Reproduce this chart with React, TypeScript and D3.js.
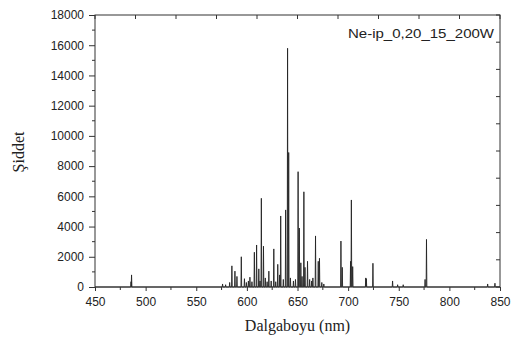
import React, { useEffect, useRef } from "react";
import * as d3 from "d3";

// Emission lines: wavelength (nm) and intensity (a.u.)
const lineWavelengths = [
  485.6, 486.1, 576.0, 579.0, 583.0, 585.2, 588.2, 590.2, 594.5, 597.6, 599.5, 601.5, 603.0, 605.0,
  607.4, 609.6, 611.8, 613.0, 614.3, 616.4, 618.2, 620.0, 621.7, 624.0, 626.6, 628.5, 630.5, 632.4,
  633.4, 636.0, 638.3, 640.2, 641.3, 643.0, 646.0, 648.0, 650.6, 651.8, 653.3, 654.5, 656.3, 657.4,
  659.9, 662.0, 664.0, 665.2, 667.8, 670.5, 671.7, 674.0, 676.0, 692.9, 694.2, 702.4, 703.2, 704.5,
  717.4, 718.0, 724.5, 743.9, 748.9, 754.4, 776.0, 777.4, 837.8, 845.0,
];
const lineIntensities = [
  350, 800, 200, 150, 300, 1400, 1050, 700, 2000, 550, 300, 400, 650, 350,
  2300, 2780, 1200, 400, 5870, 2700, 600, 350, 1050, 400, 2520, 350, 1500, 800,
  4700, 500, 5100, 15800, 8900, 600, 400, 500, 7630, 3900, 1600, 700, 6300, 1300,
  1700, 500, 400, 600, 3380, 1700, 1900, 300, 200, 3040, 1300, 1700, 5760, 1350,
  600, 550, 1570, 400, 150, 150, 500, 3150, 200, 250,
];

const xMajorTicks = [450, 500, 550, 600, 650, 700, 750, 800, 850];
const yMajorTicks = [0, 2000, 4000, 6000, 8000, 10000, 12000, 14000, 16000, 18000];
const legendLabel = "Ne-ip_0,20_15_200W";
const xTitle = "Dalgaboyu (nm)";
const yTitle = "Şiddet";

const W = 515;
const H = 338;
const L = 95, R = 500, T = 15, B = 287;

export default function App() {
  const ref = useRef<SVGSVGElement>(null);
  useEffect(() => {
    const svg = d3.select(ref.current);
    svg.selectAll("*").remove();
    const x = d3.scaleLinear().domain([450, 850]).range([L, R]);
    const y = d3.scaleLinear().domain([0, 18000]).range([B, T]);
    const axisColor = "#333";

    // spectrum path
    const pts: [number, number][] = [[450, 0]];
    const peaks = lineWavelengths.map((w, i) => ({ w, v: lineIntensities[i] })).sort((a, b) => a.w - b.w);
    peaks.forEach((p) => {
      pts.push([p.w - 0.35, 0]);
      pts.push([p.w, p.v]);
      pts.push([p.w + 0.35, 0]);
    });
    pts.push([850, 0]);
    const line = d3.line<[number, number]>().x((d) => x(d[0])).y((d) => y(d[1]));
    svg.append("path").attr("d", line(pts)!).attr("fill", "none").attr("stroke", "#222").attr("stroke-width", 0.9);

    // frame
    svg.append("rect").attr("x", L).attr("y", T).attr("width", R - L).attr("height", B - T)
      .attr("fill", "none").attr("stroke", axisColor).attr("stroke-width", 1);

    const font = "'Liberation Sans', Arial, sans-serif";
    const gl = svg.append("g").attr("transform", `translate(${L},0)`)
      .call(d3.axisLeft(y).tickValues(yMajorTicks).tickSize(6).tickPadding(5).tickFormat(d3.format("d")));
    const gb = svg.append("g").attr("transform", `translate(0,${B})`)
      .call(d3.axisBottom(x).tickValues(xMajorTicks).tickSize(4).tickPadding(6.5).tickFormat(d3.format("d")));
    [gl, gb].forEach((g) => {
      g.select(".domain").remove();
      g.selectAll("line").attr("stroke", axisColor);
      g.selectAll("text").attr("font-family", font).attr("font-size", 12).attr("fill", "#222");
    });
    const yMinor = d3.range(1000, 18000, 2000);
    svg.append("g").selectAll("line").data(yMinor).join("line")
      .attr("x1", L - 3).attr("x2", L).attr("y1", (d) => y(d)).attr("y2", (d) => y(d)).attr("stroke", axisColor);
    const xMinor = d3.range(475, 850, 50);
    svg.append("g").selectAll("line").data(xMinor).join("line")
      .attr("x1", (d) => x(d)).attr("x2", (d) => x(d)).attr("y1", B).attr("y2", B + 3).attr("stroke", axisColor);
    const xTop = d3.range(0, 11).map((i) => 450 + i * 40);
    svg.append("g").selectAll("line").data(xTop).join("line")
      .attr("x1", (d) => x(d)).attr("x2", (d) => x(d)).attr("y1", T).attr("y2", T + 4).attr("stroke", axisColor);
    const yRight = d3.range(0, 11).map((i) => i * 1800);
    svg.append("g").selectAll("line").data(yRight).join("line")
      .attr("x1", R - 4).attr("x2", R).attr("y1", (d) => y(d)).attr("y2", (d) => y(d)).attr("stroke", axisColor);

    svg.append("text").attr("x", 348).attr("y", 38).attr("font-family", font).attr("font-size", 12)
      .attr("textLength", 146).attr("lengthAdjust", "spacingAndGlyphs").attr("fill", "#222").text(legendLabel);

    const serif = "'Liberation Serif', 'Times New Roman', serif";
    svg.append("text").attr("x", (L + R) / 2).attr("y", 331).attr("text-anchor", "middle")
      .attr("font-family", serif).attr("font-size", 16).attr("fill", "#222").text(xTitle);
    svg.append("text").attr("transform", `translate(24,152) rotate(-90)`).attr("text-anchor", "middle")
      .attr("font-family", serif).attr("font-size", 16).attr("fill", "#222").text(yTitle);
  }, []);
  return (
    <svg ref={ref} width={W} height={H} style={{ position: "absolute", left: 0, top: 0, background: "#fff" }} />
  );
}
